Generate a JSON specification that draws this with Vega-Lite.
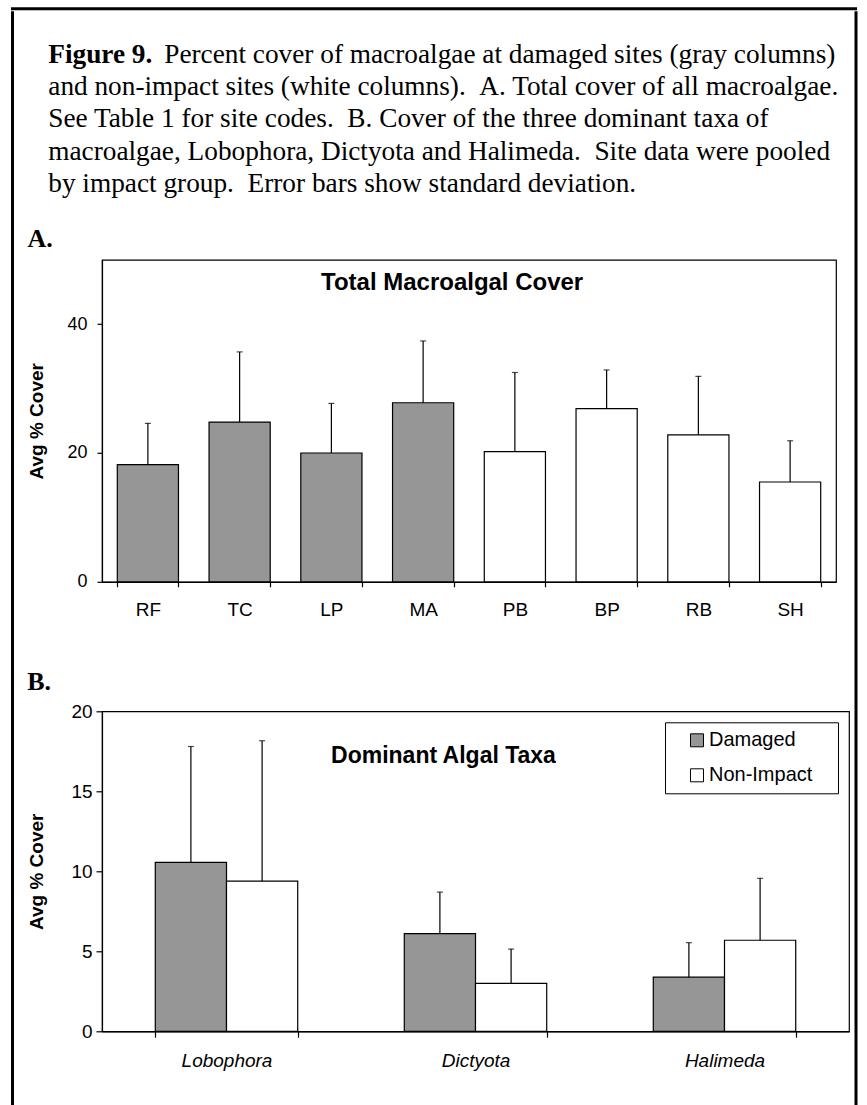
{
  "$schema": "https://vega.github.io/schema/vega-lite/v6.json",
  "background": "white",
  "padding": {"left": 10.5, "top": 6.8, "right": 0, "bottom": 0},
  "spacing": 0,
  "config": {
    "view": {"stroke": "black", "strokeWidth": 1.2},
    "font": "Liberation Sans",
    "axis": {
      "domainColor": "black", "domainWidth": 1.2,
      "tickColor": "black", "tickWidth": 1.2,
      "labelColor": "black", "titleColor": "black",
      "labelFont": "Liberation Sans", "titleFont": "Liberation Sans",
      "grid": false
    }
  },
  "vconcat": [
    {
      "width": 843,
      "height": 0.01,
      "data": {"values": [{}]},
      "mark": {"type": "point", "size": 0, "opacity": 0},
      "encoding": {},
      "view": {"stroke": "black", "strokeWidth": 3, "fill": null}
    },
    {
      "spacing": 12.5,
      "hconcat": [
        {
          "width": 0.01,
          "height": 1092,
          "data": {"values": [{}]},
          "mark": {"type": "point", "size": 0, "opacity": 0},
          "encoding": {},
          "view": {"stroke": "black", "strokeWidth": 3, "fill": null}
        },
        {
          "spacing": 4,
          "hconcat": [
            {
              "spacing": 26,
              "vconcat": [
                {
                  "width": 1,
                  "height": 1,
                  "data": {"values": [{}]},
                  "mark": {"type": "point", "size": 0, "opacity": 0},
                  "encoding": {},
                  "view": {"stroke": null, "fill": "white"}
                },
                {
                  "title": {
                    "text": "Figure 9.",
                    "subtitle": [
                      "\u200b\u00a0\u00a0\u00a0\u00a0\u00a0\u00a0\u00a0\u00a0\u00a0\u00a0\u00a0\u00a0\u00a0\u00a0\u00a0\u00a0\u00a0Percent cover of macroalgae at damaged sites (gray columns)",
                      "and non-impact sites (white columns). \u00a0A. Total cover of all macroalgae.",
                      "See Table 1 for site codes. \u00a0B. Cover of the three dominant taxa of",
                      "macroalgae, Lobophora, Dictyota and Halimeda. \u00a0Site data were pooled",
                      "by impact group. \u00a0Error bars show standard deviation."
                    ],
                    "anchor": "start",
                    "frame": "bounds",
                    "dx": 21,
                    "offset": 29,
                    "font": "Liberation Serif",
                    "fontSize": 27.3,
                    "fontWeight": "bold",
                    "lineHeight": 27.3,
                    "color": "black",
                    "subtitleFont": "Liberation Serif",
                    "subtitleFontSize": 27.3,
                    "subtitleFontWeight": "normal",
                    "subtitleColor": "black",
                    "subtitleLineHeight": 32.3,
                    "subtitlePadding": -27.3
                  },
                  "spacing": 47.5,
                  "resolve": {"scale": {"fill": "independent"}, "legend": {"fill": "independent"}},
                  "vconcat": [
                    {
                      "title": {
                        "text": "A.", "anchor": "start", "frame": "bounds", "dx": 0, "offset": -14,
                        "baseline": "alphabetic",
                        "font": "Liberation Serif", "fontSize": 26, "fontWeight": "bold", "color": "black"
                      },
                      "resolve": {"scale": {"fill": "independent"}, "legend": {"fill": "independent"}},
                      "vconcat": [
                        {
                          "width": 734,
                          "height": 322,
                          "layer": [
                            {
                              "data": {
                                "values": [
                                  {"site": "RF", "impact": "Damaged", "cover": 18.2, "sd": 6.4},
                                  {"site": "TC", "impact": "Damaged", "cover": 24.8, "sd": 10.9},
                                  {"site": "LP", "impact": "Damaged", "cover": 20.0, "sd": 7.7},
                                  {"site": "MA", "impact": "Damaged", "cover": 27.8, "sd": 9.6},
                                  {"site": "PB", "impact": "Non-Impact", "cover": 20.2, "sd": 12.3},
                                  {"site": "BP", "impact": "Non-Impact", "cover": 26.9, "sd": 6.0},
                                  {"site": "RB", "impact": "Non-Impact", "cover": 22.8, "sd": 9.1},
                                  {"site": "SH", "impact": "Non-Impact", "cover": 15.5, "sd": 6.4}
                                ]
                              },
                              "encoding": {
                                "x": {
                                  "field": "site", "type": "nominal", "sort": null,
                                  "scale": {"paddingInner": 0.3333, "paddingOuter": 0.1667},
                                  "axis": {
                                    "title": null, "labelAngle": 0, "tickBand": "extent",
                                    "tickSize": 5, "labelPadding": 14, "labelFontSize": 19
                                  }
                                },
                                "y": {
                                  "field": "cover", "type": "quantitative",
                                  "scale": {"domain": [0, 50]},
                                  "axis": {
                                    "title": "Avg % Cover", "values": [0, 20, 40],
                                    "tickSize": 5, "labelPadding": 10, "labelFontSize": 18,
                                    "titleFontSize": 19, "titleFontWeight": "bold", "titlePadding": 20
                                  }
                                }
                              },
                              "layer": [
                                {
                                  "mark": {"type": "errorbar", "ticks": true, "color": "black", "thickness": 1.2, "size": 6},
                                  "encoding": {"yError": {"field": "sd"}}
                                },
                                {
                                  "mark": {"type": "bar", "stroke": "black", "strokeWidth": 1.2},
                                  "encoding": {
                                    "fill": {
                                      "field": "impact", "type": "nominal",
                                      "scale": {"domain": ["Damaged", "Non-Impact"], "range": ["#969696", "#ffffff"]},
                                      "legend": null
                                    }
                                  }
                                }
                              ]
                            },
                            {
                              "data": {"values": [{"heading": "Total Macroalgal Cover"}]},
                              "mark": {
                                "type": "text", "font": "Liberation Sans", "fontSize": 24, "fontWeight": "bold",
                                "color": "black", "align": "center", "baseline": "alphabetic", "dx": 29
                              },
                              "encoding": {
                                "x": {"datum": "MA", "type": "nominal"},
                                "y": {"datum": 45.3, "type": "quantitative"},
                                "text": {"field": "heading"}
                              }
                            }
                          ]
                        }
                      ]
                    },
                    {
                      "title": {
                        "text": "B.", "anchor": "start", "frame": "bounds", "dx": 0, "offset": -14,
                        "baseline": "alphabetic",
                        "font": "Liberation Serif", "fontSize": 26, "fontWeight": "bold", "color": "black"
                      },
                      "resolve": {"scale": {"fill": "independent"}, "legend": {"fill": "independent"}},
                      "vconcat": [
                        {
                          "width": 747,
                          "height": 320,
                          "layer": [
                            {
                              "data": {
                                "values": [
                                  {"taxon": "Lobophora", "impact": "Damaged", "cover": 10.56, "sd": 7.24},
                                  {"taxon": "Lobophora", "impact": "Non-Impact", "cover": 9.38, "sd": 8.78},
                                  {"taxon": "Dictyota", "impact": "Damaged", "cover": 6.1, "sd": 2.6},
                                  {"taxon": "Dictyota", "impact": "Non-Impact", "cover": 3.0, "sd": 2.14},
                                  {"taxon": "Halimeda", "impact": "Damaged", "cover": 3.38, "sd": 2.16},
                                  {"taxon": "Halimeda", "impact": "Non-Impact", "cover": 5.69, "sd": 3.87}
                                ]
                              },
                              "encoding": {
                                "x": {
                                  "field": "taxon", "type": "nominal", "sort": null,
                                  "scale": {"paddingInner": 0.428, "paddingOuter": 0.214},
                                  "axis": {
                                    "title": null, "labelAngle": 0, "tickBand": "extent",
                                    "tickSize": 6, "labelPadding": 14, "labelFontSize": 19, "labelFontStyle": "italic"
                                  }
                                },
                                "xOffset": {
                                  "field": "impact", "type": "nominal", "sort": null,
                                  "scale": {"paddingInner": 0, "paddingOuter": 0}
                                },
                                "y": {
                                  "field": "cover", "type": "quantitative",
                                  "scale": {"domain": [0, 20]},
                                  "axis": {
                                    "title": "Avg % Cover", "values": [0, 5, 10, 15, 20],
                                    "tickSize": 6, "labelPadding": 4, "labelFontSize": 19,
                                    "titleFontSize": 19, "titleFontWeight": "bold", "titlePadding": 24
                                  }
                                }
                              },
                              "layer": [
                                {
                                  "mark": {"type": "errorbar", "ticks": true, "color": "black", "thickness": 1.2, "size": 6},
                                  "encoding": {"yError": {"field": "sd"}}
                                },
                                {
                                  "mark": {"type": "bar", "stroke": "black", "strokeWidth": 1.2},
                                  "encoding": {
                                    "fill": {
                                      "field": "impact", "type": "nominal",
                                      "scale": {"domain": ["Damaged", "Non-Impact"], "range": ["#969696", "#ffffff"]},
                                      "legend": {
                                        "title": null, "orient": "top-right", "offset": 11,
                                        "strokeColor": "black", "fillColor": "white", "padding": 8,
                                        "symbolType": "square", "symbolSize": 169,
                                        "symbolStrokeColor": "black", "symbolStrokeWidth": 1,
                                        "symbolOffset": 14, "labelOffset": 2, "rowPadding": 15,
                                        "labelFont": "Liberation Sans", "labelFontSize": 20, "labelColor": "black",
                                        "labelExpr": "datum.label + '\u00a0\u00a0\u00a0\u200b'"
                                      }
                                    }
                                  }
                                }
                              ]
                            },
                            {
                              "data": {"values": [{"heading": "Dominant Algal Taxa"}]},
                              "mark": {
                                "type": "text", "font": "Liberation Sans", "fontSize": 23, "fontWeight": "bold",
                                "color": "black", "align": "center", "baseline": "alphabetic", "dx": -32
                              },
                              "encoding": {
                                "x": {"datum": "Dictyota", "type": "nominal"},
                                "y": {"datum": 16.77, "type": "quantitative"},
                                "text": {"field": "heading"}
                              }
                            }
                          ]
                        }
                      ]
                    }
                  ]
                }
              ]
            },
            {
              "width": 0.01,
              "height": 1092,
              "data": {"values": [{}]},
              "mark": {"type": "point", "size": 0, "opacity": 0},
              "encoding": {},
              "view": {"stroke": "black", "strokeWidth": 3, "fill": null}
            }
          ]
        }
      ]
    }
  ]
}
